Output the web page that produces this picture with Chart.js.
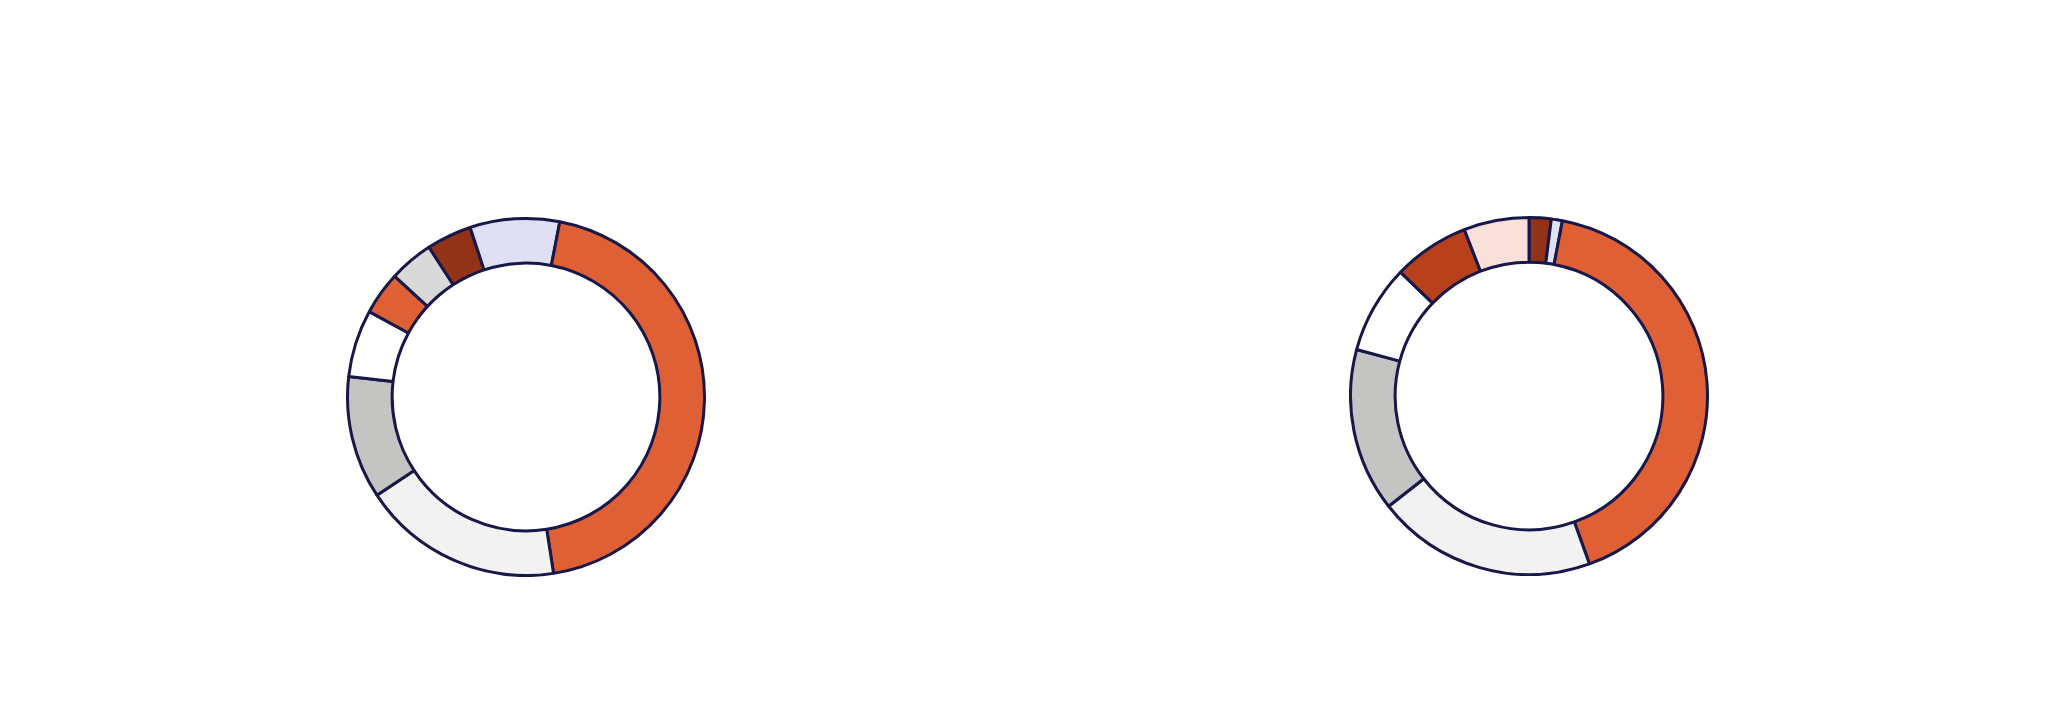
<!DOCTYPE html>
<html>
<head>
<meta charset="utf-8">
<script src="https://cdn.jsdelivr.net/npm/chart.js@4"></script>
<style>
    body { margin: 0; background: #fff; width: 2056px; height: 726px; position: relative; overflow: hidden; }
    .donut { position: absolute; width: 360px; height: 360px; }
    #left { left: 346px; top: 217px; }
    #right { left: 1349px; top: 216px; }
</style>
</head>
<body>
<div class="donut" id="left"><canvas id="leftChart"></canvas></div>
<div class="donut" id="right"><canvas id="rightChart"></canvas></div>
<script>
const categories = ['A', 'B', 'C', 'D', 'E', 'F', 'G', 'H'];
const leftValues = [4.1, 8.1, 44.5, 18.2, 11.1, 6.1, 3.9, 4.0];
const rightValues = [2.0, 1.0, 41.5, 19.9, 14.8, 8.0, 6.9, 5.9];
const leftColors = ['#923318', '#e0e0f5', '#e06036', '#f2f2f2', '#c4c4c2', '#ffffff', '#e06036', '#d9d9d9'];
const rightColors = ['#923318', '#e0e0f5', '#e06036', '#f2f2f2', '#c4c4c2', '#ffffff', '#b8411b', '#f9e0d9'];

function donut(id, values, colors, rotation) {
    return new Chart(document.getElementById(id), {
        type: 'doughnut',
        data: {
            labels: categories,
            datasets: [{
                data: values,
                backgroundColor: colors,
                borderColor: '#17174a',
                borderWidth: 3,
            }]
        },
        options: {
            responsive: true,
            maintainAspectRatio: false,
            animation: false,
            cutout: '75%',
            rotation: rotation,
            plugins: {
                legend: { display: false },
                title: { display: false },
                tooltip: { enabled: false }
            }
        },
    });
}

donut('leftChart', leftValues, leftColors, -33);
donut('rightChart', rightValues, rightColors, 0);
</script>
</body>
</html>
